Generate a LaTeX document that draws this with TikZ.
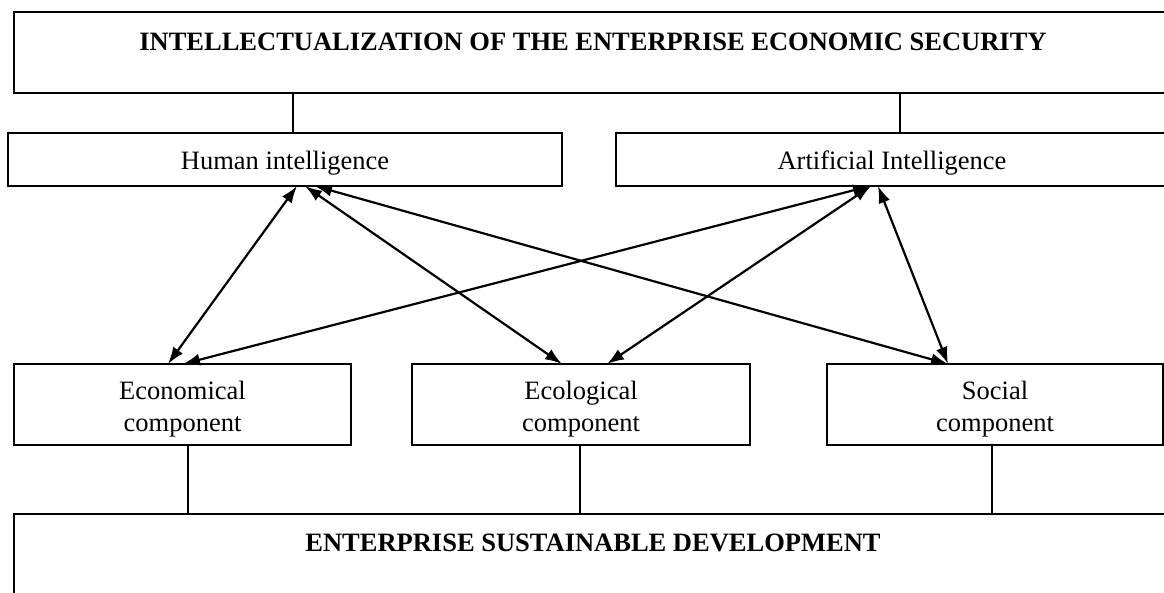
\documentclass[tikz,border=0pt]{standalone}
\usepackage{fontspec}
\setmainfont{Liberation Serif}
\usetikzlibrary{arrows.meta,calc}
\tikzset{
  box/.style={draw=black, line width=1.7pt, fill=white, inner sep=0pt, outer sep=0pt},
  txt/.style={font=\fontsize{26.5}{32}\selectfont, align=center, inner sep=0pt},
  btxt/.style={font=\fontsize{26.5}{31}\selectfont\bfseries, align=center, inner sep=0pt},
  link/.style={draw=black, line width=1.3pt},
  arr/.style={draw=black, line width=2.2pt, {Latex[length=17pt,width=12pt]}-{Latex[length=17pt,width=12pt]}}
}
\begin{document}
\begin{tikzpicture}[x=1pt,y=-1pt]
\useasboundingbox (0,0) rectangle (1164,592);
\fill[white] (0,0) rectangle (1164,592);
\clip (0,0) rectangle (1164,592);

% boxes
\node[box, minimum width=1158pt, minimum height=81pt] (top) at (593,52.5) {};
\node[btxt] (toptxt) at (593,42) {INTELLECTUALIZATION OF THE ENTERPRISE ECONOMIC SECURITY};

\node[box, minimum width=554pt, minimum height=53pt] (hum) at (285,159.5) {};
\node[txt] (humtxt) at ([yshift=-4pt]hum.center) {Human intelligence};
\node[box, minimum width=552pt, minimum height=53pt] (ai) at (892,159.5) {};
\node[txt] (aitxt) at ([yshift=-4pt]ai.center) {Artificial Intelligence};

\node[box, minimum width=337pt, minimum height=81pt] (eco) at (182.5,404.5) {};
\node[txt] (ecotxt) at ([yshift=-5pt]eco.center) {Economical\\component};
\node[box, minimum width=338pt, minimum height=81pt] (ecol) at (581,404.5) {};
\node[txt] (ecoltxt) at ([yshift=-5pt]ecol.center) {Ecological\\component};
\node[box, minimum width=336pt, minimum height=81pt] (soc) at (995,404.5) {};
\node[txt] (soctxt) at ([yshift=-5pt]soc.center) {Social\\component};

\node[box, minimum width=1158pt, minimum height=106pt] (bot) at (593,567) {};
\node[btxt] (bottxt) at (593,543) {ENTERPRISE SUSTAINABLE DEVELOPMENT};

% vertical links
\draw[link] ([xshift=8pt]hum.north) -- ([xshift=8pt]hum.north |- top.south);
\draw[link] ([xshift=8pt]ai.north) -- ([xshift=8pt]ai.north |- top.south);
\draw[link] ([xshift=5.5pt]eco.south) -- ([xshift=5.5pt]eco.south |- bot.north);
\draw[link] ([xshift=-1pt]ecol.south) -- ([xshift=-1pt]ecol.south |- bot.north);
\draw[link] ([xshift=-3pt]soc.south) -- ([xshift=-3pt]soc.south |- bot.north);

% arrows
\draw[arr] ([xshift=12pt]hum.south) -- ([xshift=-14.5pt]eco.north);
\draw[arr] ([xshift=20pt]hum.south) -- ([xshift=-19pt]ecol.north);
\draw[arr] ([xshift=30pt]hum.south) -- ([xshift=-47pt]soc.north);
\draw[arr] ([xshift=-22pt]ai.south) -- ([xshift=0.5pt]eco.north);
\draw[arr] ([xshift=-21pt]ai.south) -- ([xshift=26pt]ecol.north);
\draw[arr] ([xshift=-14pt]ai.south) -- ([xshift=-47pt]soc.north);
\end{tikzpicture}
\end{document}
